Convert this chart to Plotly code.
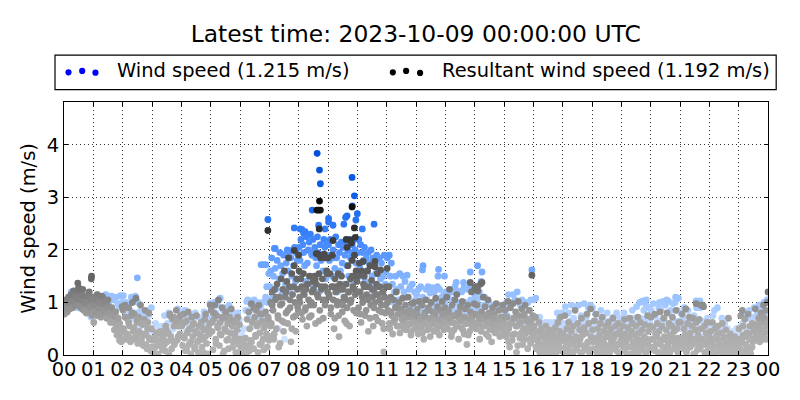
import plotly.graph_objects as go

tick_labels = ["00","01","02","03","04","05","06","07","08","09","10","11","12","13","14","15","16","17","18","19","20","21","22","23","00"]
title_text = "Latest time: 2023-10-09 00:00:00 UTC"
wind_label = "Wind speed (1.215 m/s)"
resultant_label = "Resultant wind speed (1.192 m/s)"

r00 = [0.78,0.85,0.92,0.82,1.0,0.88,1.02,0.95,1.08,0.9,1.12,1.0,1.2,1.05,1.1,1.25,1.1,1.02,1.15,0.88,1.25,1.0,0.85,1.1,0.95,1.05,0.82,1.2,1.0,0.92,0.75,1.1]
r01 = [0.62,1.08,0.95,0.75,1.15,1.0,0.88,1.05,0.72,0.98,1.1,0.85,0.92,1.02,0.78,0.95,1.05,0.8,0.9,0.72,0.88,0.82,0.68,0.78,0.6,0.72,0.55,0.66,0.42,0.6,0.35,0.25,0.5]
r02 = [0.85,0.45,0.95,0.3,0.7,0.38,0.9,0.55,0.25,0.75,1.0,0.45,0.78,0.3,1.08,0.62,0.22,0.72,0.42,0.95,0.3,0.58,0.18,0.68,0.85,0.38,0.12,0.62,0.8,0.3,0.08,0.5]
r03 = [0.28,0.05,0.32,0.15,0.42,0.25,0.02,0.42,0.18,0.45,0.3,0.1,0.38,0.2,0.08,0.5,0.25,0.42,0.02,0.78,0.35,0.12,0.68,0.72,0.2,0.58,0.85,0.28,0.55,0.7,0.4,0.6]
r04 = [0.55,0.18,0.78,0.32,0.08,0.65,0.42,0.82,0.2,0.5,0.02,0.72,0.35,0.6,0.12,0.45,0.75,0.25,0.05,0.55,0.38,0.62,0.15,0.3,0.48,0.68,0.78,0.22,0.02,0.52,0.4,0.95]
r05 = [0.85,0.45,0.1,0.68,0.95,0.3,0.75,0.55,1.05,0.18,0.62,0.38,0.9,0.02,0.7,0.5,0.82,0.28,0.6,0.12,0.72,0.42,0.88,0.55,0.25,0.65,0.35,0.05,0.48,0.72,0.2,0.58]
r06 = [0.02,0.12,0.3,0.05,0.22,0.1,0.32,0.02,0.68,0.18,0.82,0.5,0.28,0.98,0.62,0.12,0.9,0.72,0.38,0.85,0.55,0.05,0.95,0.42,0.78,0.22,0.65,0.3,0.1,0.58,0.82,0.4,0.15,0.72,0.28]
r07 = [0.35,1.0,0.6,1.2,0.85,0.3,1.25,1.05,0.5,1.35,0.75,0.15,1.1,0.95,1.45,0.65,1.25,0.45,1.6,1.1,0.8,1.4,0.6,1.85,1.3,0.9,0.25,1.55,1.15,0.72,1.7,1.0,0.45,1.45,1.25,0.85]
r08 = [1.6,1.0,1.45,1.3,0.68,1.55,1.15,0.85,1.25,0.55,1.35,1.05,1.5,0.95,0.75,1.2,1.4,0.95,1.5,0.6,1.35,1.93,1.1,1.55,0.85,1.85,1.25,1.45,0.7,1.92,1.3,1.05,1.6,1.2]
r09 = [1.85,1.1,1.55,0.78,1.3,1.9,1.05,0.5,1.45,1.2,1.3,0.95,1.55,0.35,1.35,1.0,1.5,0.82,1.25,1.1,0.65,1.05,1.35,0.9,1.7,1.2,0.55,1.45,1.05,1.8,1.3,0.85,1.9,1.15,1.6,1.4]
r10 = [1.5,0.9,1.75,1.2,0.62,1.6,1.0,1.35,1.5,0.75,1.3,1.15,1.6,0.45,1.3,1.7,0.95,1.42,1.1,0.55,1.25,1.0,0.72,1.35,1.55,1.15,0.85,1.3,1.62,0.95,0.6,1.2,0.06,1.1,0.8,1.3]
r11 = [1.65,0.85,1.3,0.5,1.1,0.75,0.4,1.05,0.65,0.9,1.2,0.55,0.78,1.0,0.42,0.88,0.68,1.08,0.6,0.82,0.95,0.48,0.72,1.1,0.58,0.85,0.38,0.98,0.7,1.0,0.5,0.8]
r12 = [0.62,0.88,0.4,1.02,0.72,0.5,0.95,0.58,0.3,0.8,1.05,0.65,0.48,0.9,0.7,0.35,1.0,0.6,0.82,0.45,0.75,1.08,0.55,0.92,0.68,0.38,0.85,0.6,1.02,0.72,0.48,0.9]
r13 = [0.7,1.1,0.5,0.85,1.25,0.62,0.35,0.95,0.75,0.48,1.05,0.58,1.15,0.8,0.3,0.68,0.92,0.52,1.02,0.72,0.4,0.88,0.6,0.2,0.95,0.65,0.45,0.82,1.2,0.55,0.75,0.98]
r14 = [1.3,0.5,0.95,1.22,0.65,0.3,1.35,0.82,0.55,1.1,0.72,0.92,0.4,0.62,1.05,0.8,0.5,0.7,0.25,0.9,0.58,0.78,0.42,0.98,0.65,0.52,0.85,0.35,0.72,0.6,0.95,0.48]
r15 = [0.6,0.85,0.35,0.72,1.02,0.5,0.15,0.9,0.62,0.28,0.98,0.7,0.4,0.82,0.05,0.55,1.02,0.75,0.32,0.62,0.88,0.2,0.5,0.78,0.95,0.42,0.68,0.12,0.55,0.85,0.3,0.65,0.45,0.75]
r16 = [0.55,0.3,0.72,0.12,0.45,0.25,0.62,0.05,0.35,0.5,0.18,0.42,0.02,0.28,0.55,0.1,0.38,0.22,0.48,0.05,0.32,0.15,0.42,0.02,0.25,0.52,0.1,0.35,0.62,0.18,0.45,0.72,0.08,0.3]
r17 = [0.4,0.05,0.75,0.25,0.5,0.12,0.62,0.32,0.02,0.45,0.2,0.55,0.08,0.85,0.35,0.15,0.6,0.28,0.48,0.05,0.7,0.38,0.18,0.52,0.1,0.42,0.78,0.25,0.6,0.02,0.88,0.32]
r18 = [0.48,0.12,0.65,0.3,0.78,0.05,0.5,0.22,0.38,0.6,0.15,0.72,0.28,0.45,0.02,0.55,0.35,0.18,0.62,0.42,0.08,0.5,0.25,0.7,0.32,0.12,0.55,0.4,0.2,0.6,0.02,0.45,0.28]
r19 = [0.3,0.55,0.12,0.68,0.4,0.22,0.02,0.52,0.32,0.7,0.15,0.45,0.6,0.25,0.05,0.38,0.55,0.18,0.72,0.42,0.28,0.62,0.1,0.48,0.2,0.35,0.58,0.02,0.3,0.75,0.45,0.15,0.55]
r20 = [0.72,0.3,0.52,0.12,0.78,0.4,0.2,0.6,0.05,0.45,0.82,0.28,0.55,0.15,0.7,0.35,0.02,0.48,0.8,0.25,0.6,0.38,0.1,0.55,0.72,0.3,0.45,0.18,0.85,0.5,0.05,0.62,0.32]
r21 = [0.62,0.28,0.78,0.15,0.5,0.38,0.88,0.08,0.6,0.25,0.72,0.42,0.18,0.55,0.7,0.3,0.02,0.48,0.62,0.22,0.38,0.68,0.12,0.5,0.3,0.95,0.92,0.55,0.2,0.42,0.62,0.05,0.35]
r22 = [0.2,0.45,0.08,0.62,0.3,0.15,0.5,0.02,0.38,0.55,0.22,0.1,0.42,0.28,0.6,0.05,0.35,0.18,0.48,0.02,0.3,0.7,0.12,0.4,0.2,0.05,0.28,0.15,0.35,0.02,0.22,0.1,0.3]
r23 = [0.5,0.1,0.75,0.3,0.85,0.55,0.05,0.68,0.35,0.18,0.02,0.78,0.4,0.55,0.12,0.3,0.6,0.25,0.45,0.32,0.88,0.55,0.35,0.28,0.7,0.5,0.3,0.8,0.62,0.3,0.95,0.7,0.42,0.85,0.55,0.65]

b00 = [0.9,1.05,0.98,1.1,0.88,1.15,1.02,1.22,1.12,0.95,1.08,1.28,0.92,1.05,1.14,0.85,1.0,0.8,1.12,1.0,0.9,1.05,0.78]
b01 = [0.95,0.82,1.05,0.9,1.0,0.78,1.12,0.98,0.85,1.03,0.7,0.92,0.8,0.62,0.9,0.75,0.48,0.82,0.38,0.7,0.28,0.45,0.92]
b02 = [0.5,0.72,0.4,0.62,0.32,0.8,0.52,0.35,0.68,0.45,0.25,0.6,0.4,0.2,0.5,0.32,0.15]
b03 = [0.12,0.32,0.22,0.42,0.18,0.3,0.55,0.42,0.75,0.28,0.55,0.65,0.35,0.75]
b04 = [0.35,0.62,0.1,0.48,0.25,0.58,0.15,0.42,0.28,0.55,0.05,0.35,0.48,0.6]
b05 = [0.62,0.8,0.22,0.52,0.4,0.72,0.08,0.45,0.3,0.68,0.15,0.4,0.62,0.3]
b06 = [0.08,0.2,0.02,0.15,0.08,0.25,0.12,0.35,0.6,0.2,0.78,0.52,0.32,0.68]
b07 = [0.55,0.95,0.4,1.1,0.7,0.22,0.98,0.62,1.2,0.85,1.05,0.5,1.3,0.75,0.92]
b08 = [1.1,0.8,1.2,0.9,1.35,0.72,1.0,1.25,1.45,1.15,0.65,1.3,1.05,0.95,1.55]
b09 = [1.15,0.9,1.3,0.7,1.02,0.75,1.25,0.95,1.1,0.6,1.2,1.0,1.5,1.25,0.8]
b10 = [1.2,0.78,1.1,1.3,0.85,1.05,0.7,1.25,0.9,1.15,0.65,1.05,0.82,0.5,0.95]
b11 = [1.0,0.6,0.82,0.62,0.7,0.92,0.55,0.78,0.68,0.5,0.72,0.6,0.8,0.45,0.62,0.75]
b12 = [0.78,0.55,0.68,0.42,0.75,0.6,0.85,0.52,0.7,0.62,0.8,0.45,0.68,0.55,0.78,0.62]
b13 = [0.6,0.8,0.7,0.42,0.62,0.75,0.55,0.8,0.65,0.48,0.72,0.6,0.38,0.7,0.55,0.62]
b14 = [0.78,0.58,0.72,0.45,0.68,0.55,0.75,0.35,0.62,0.48,0.7,0.58,0.42,0.65,0.55,0.38]
b15 = [0.72,0.45,0.25,0.6,0.38,0.7,0.55,0.18,0.62,0.42,0.75,0.3,0.65,0.5,0.22,0.4]
b16 = [0.4,0.15,0.3,0.08,0.38,0.2,0.12,0.3,0.02,0.22,0.12,0.28,0.05,0.18,0.25,0.1]
b17 = [0.3,0.15,0.08,0.35,0.22,0.02,0.28,0.12,0.2,0.3,0.05,0.4,0.15,0.22,0.1,0.35]
b18 = [0.25,0.1,0.32,0.18,0.05,0.3,0.22,0.12,0.35,0.02,0.28,0.15,0.38,0.08,0.2,0.4]
b19 = [0.2,0.08,0.3,0.15,0.35,0.02,0.25,0.12,0.32,0.05,0.28,0.18,0.35,0.08,0.22,0.1]
b20 = [0.15,0.3,0.08,0.35,0.22,0.02,0.28,0.12,0.3,0.18,0.05,0.35,0.25,0.12,0.32,0.2]
b21 = [0.12,0.32,0.2,0.05,0.35,0.15,0.28,0.02,0.22,0.1,0.32,0.18,0.3,0.05,0.25,0.12]
b22 = [0.12,0.25,0.02,0.32,0.15,0.08,0.22,0.02,0.15,0.25,0.08,0.18,0.02,0.12,0.05,0.2]
b23 = [0.15,0.02,0.25,0.38,0.08,0.2,0.42,0.1,0.3,0.02,0.15,0.28,0.48,0.35,0.58,0.42,0.25,0.5,0.35,0.72,0.45,0.3,0.6]

w00 = [0.8,0.95,1.05,1.1,1.2,1.08,1.0,1.15,0.9,1.05,1.2,0.95,1.1,1.0,1.15,0.9,0.72,1.1]
w01 = [1.0,1.1,1.15,1.0,0.9,1.05,0.85,0.95,1.15,1.12,1.0,0.8,1.12,1.05,0.78,1.1,0.98,0.9,1.13,1.0]
w02 = [1.13,0.9,1.0,0.75,0.6,0.85,1.1,0.7,0.8,1.12,0.72,1.0,0.82,0.55,0.85,0.7,0.8,0.62,0.5,0.75,0.45,0.9]
w03 = [0.3,0.45,0.6,0.35,0.5,0.4,0.55,0.3,0.75,0.45,0.6,0.8,0.4,0.68,0.5,0.7,0.62,0.88,0.55,0.72]
w04 = [0.8,0.6,0.85,0.45,0.7,0.55,0.75,0.65,0.4,0.8,0.55,0.72,0.48,0.7,0.6,0.82,0.5,0.72,0.62,0.98]
w05 = [0.9,0.72,1.0,0.8,0.95,0.6,1.08,0.7,0.85,0.5,0.9,0.75,0.95,0.6,0.82,0.55,0.78,0.62,0.8,0.68]
w06 = [0.25,0.4,0.15,0.5,0.3,0.85,1.02,1.05,0.7,1.0,0.95,1.0,0.55,1.05,0.85,0.9,1.0,0.68,0.8,0.92,0.6,1.0,0.5,0.78,1.1,1.3,1.0,1.55]
w07 = [1.3,1.6,1.85,1.1,1.5,2.03,1.65,1.25,1.8,0.5,1.45,1.95,1.7,1.15,1.55,1.9,0.3,1.35,1.75,2.0,1.6,1.9,1.2,1.85,1.5,2.0,1.7,2.05,1.4,1.95,1.8,1.9]
w08 = [2.05,1.8,2.2,1.55,2.1,1.95,1.7,1.4,2.25,1.75,2.0,2.15,1.5,1.95,1.9,2.2,1.3,2.05,1.85,1.7,2.25,1.95,1.2,2.1,1.8,1.85,1.6,2.2,2.05,1.45,2.1,1.9]
w09 = [2.1,1.8,2.2,1.9,1.5,2.0,1.85,1.65,2.25,1.85,1.2,2.1,1.95,1.6,2.15,1.75,2.05,1.35,1.9,2.15,1.7,2.0,1.5,2.2,1.85,1.95,2.1,1.4,2.2,2.0,1.75,1.55]
w10 = [1.95,2.2,1.7,2.1,1.5,1.95,1.8,2.05,1.4,1.85,1.6,1.95,1.75,1.3,2.0,1.5,1.85,1.2,1.7,1.55,1.9,1.3,1.6,1.85,1.45,1.75,1.2,1.5,1.9,1.35,1.6]
w11 = [1.85,1.3,1.9,1.5,1.75,1.35,1.0,1.2,1.5,1.25,0.9,1.05,1.55,1.3,0.8,1.5,1.2,1.4,1.1,1.52,0.9,1.25,1.3,0.85,1.35,0.9,1.2,1.05]
w12 = [1.15,0.85,1.25,1.0,1.3,0.8,1.1,0.9,0.8,1.25,1.05,1.3,0.85,1.18,0.9,1.28,0.8,1.2,1.0,0.85,1.3,0.95,1.25,0.8,1.1,0.9,1.15,1.0]
w13 = [1.2,0.9,1.15,0.8,0.9,1.05,1.2,0.85,1.3,0.8,1.0,1.22,0.9,0.85,1.2,0.9,1.28,1.0,0.8,1.25,0.9,1.3,1.05,0.9,1.2,0.85]
w14 = [1.1,1.3,1.0,0.9,1.2,0.85,1.1,0.8,0.95,1.1,0.7,0.95,0.75,1.0,0.8,0.7,0.95,0.8,0.6,0.95,0.7,0.9,0.65,0.95,0.7,0.6,0.9,0.7]
w15 = [0.8,0.7,1.0,0.75,1.15,0.9,0.7,1.0,0.6,1.15,0.7,1.05,0.7,1.2,0.75,0.6,0.95,0.7,1.05,0.6,0.9,1.0,0.7,0.5,1.0,0.85,0.6,1.05,0.7,0.5]
w16 = [1.05,0.7,1.08,0.55,0.7,0.45,0.72,0.5,0.6,0.35,0.55,0.4,0.62,0.4,0.5,0.3,0.62,0.45,0.4,0.55,0.35,0.62,0.5,0.4,0.8,0.55,0.7,0.5,0.45,0.8]
w17 = [0.6,0.45,0.92,0.55,0.5,0.8,0.4,0.65,0.95,0.5,0.7,0.45,0.92,0.6,0.5,0.95,0.55,0.75,0.45,0.6,0.98,0.5,0.7,0.55,0.9,0.45,0.95,0.6]
w18 = [0.9,0.55,0.45,0.78,0.5,0.65,0.4,0.6,0.85,0.5,0.7,0.35,0.6,0.5,0.8,0.45,0.65,0.4,0.55,0.48,0.72,0.35,0.6,0.8,0.45,0.55,0.7,0.5]
w19 = [0.6,0.45,0.8,0.4,0.6,0.5,0.7,0.4,0.6,0.5,0.85,0.45,0.7,0.55,0.92,0.5,0.65,1.0,0.7,1.02,0.55,0.85,0.6,0.95,0.7,0.5,0.9,0.6]
w20 = [0.85,0.55,0.98,0.45,0.75,0.5,0.65,0.9,0.5,0.85,0.6,1.02,0.7,0.95,0.5,0.8,1.02,0.6,0.85,0.5,0.98,0.65,1.0,0.6,0.85,1.08,0.65]
w21 = [0.8,0.5,0.7,0.9,0.6,0.45,0.85,0.55,0.7,0.4,0.6,0.75,0.5,0.9,0.98,1.0,0.9,0.65,0.5,0.62,0.4,0.55,0.7,0.45]
w22 = [0.55,0.4,0.75,0.85,0.55,0.9,0.35,0.5,0.7,0.45,0.6,0.3,0.5,0.35,0.45,0.25,0.4,0.3,0.5,0.38]
w23 = [0.4,0.55,0.6,0.78,0.45,0.7,0.85,0.5,0.72,0.9,0.6,0.8,0.95,0.7,0.88,1.0,0.75,1.05]

wind_peak_hours = [2.5,6.72,6.8,6.88,6.95,8.63,8.71,8.74,9.82,9.9,10.0,9.83,8.46,9.02,9.02,9.17,9.54,9.65,9.6,9.95,10.17,10.57,7.85,8.05,8.11,8.22,8.17,8.68,7.2,8.4,8.9,12.24,12.22,12.77,12.75,12.97,13.37,13.62,13.85,14.1,14.25,14.22,15.95,19.75,19.85,20.3,20.55,20.85,21.55,21.68]
wind_peak_speeds = [1.47,1.72,1.72,1.72,2.58,3.84,3.52,3.26,3.38,3.03,2.69,2.84,2.76,2.6,2.53,2.47,2.49,2.65,2.62,2.57,2.4,2.49,2.42,2.4,2.39,2.35,2.32,2.47,2.03,2.3,2.4,1.7,1.62,1.63,1.5,1.5,1.38,1.38,1.58,1.7,1.58,1.4,1.62,1.03,1.05,1.0,1.05,1.1,1.03,1.03]
resultant_peak_hours = [0.47,0.93,0.94,6.95,8.71,8.68,8.62,8.74,9.82,9.9,8.7,9.17,9.62,9.76,9.93,9.65,9.8,7.85,8.0,8.6,8.7,8.8,8.9,10.2,10.6,10.6,13.85,14.0,14.1,14.25,15.95,21.55,21.7,24.0,23.98]
resultant_peak_speeds = [1.37,1.45,1.5,2.37,2.93,2.76,2.76,2.76,2.82,2.42,2.4,2.18,2.2,2.19,2.24,2.05,2.13,1.99,1.9,1.93,1.9,1.88,1.85,1.78,1.78,1.68,1.38,1.25,1.3,1.38,1.52,0.98,0.95,1.2,1.0]

resultant_by_hour = [r00,r01,r02,r03,r04,r05,r06,r07,r08,r09,r10,r11,r12,r13,r14,r15,r16,r17,r18,r19,r20,r21,r22,r23]
resultant_extra_by_hour = [b00,b01,b02,b03,b04,b05,b06,b07,b08,b09,b10,b11,b12,b13,b14,b15,b16,b17,b18,b19,b20,b21,b22,b23]
wind_by_hour = [w00,w01,w02,w03,w04,w05,w06,w07,w08,w09,w10,w11,w12,w13,w14,w15,w16,w17,w18,w19,w20,w21,w22,w23]

def flatten(by_hour):
    xs, ys = [], []
    for hour, vals in enumerate(by_hour):
        for i, v in enumerate(vals):
            xs.append(hour + (i + 0.5) / len(vals))
            ys.append(v)
    return xs, ys

wx, wy = flatten(wind_by_hour)
wx, wy = wx + wind_peak_hours, wy + wind_peak_speeds
rx1, ry1 = flatten(resultant_by_hour)
rx2, ry2 = flatten(resultant_extra_by_hour)
rx = rx1 + rx2 + resultant_peak_hours
ry = ry1 + ry2 + resultant_peak_speeds

# The page body has an 8 px margin: the figure is 792x392 placed at (8, 8).
OFF = 8
W, H = 800 - OFF, 400 - OFF
L, R, T, B = 63.5, 768.3, 102.3, 354.7
def px(x): return (x - L) / (R - L)
def py(y): return (B - y) / (B - T)

blue_scale = [[0, "#dbe9ff"], [0.13, "#c6dcff"], [0.26, "#a2c7ff"], [0.4, "#7fb1ff"], [0.53, "#4f90ff"], [0.66, "#2a76f5"], [0.8, "#0f5ee8"], [1, "#0050d8"]]
gray_scale = [[0, "#b4b4b4"], [0.2, "#a8a8a8"], [0.33, "#8a8a8a"], [0.45, "#6e6e6e"], [0.55, "#5a5a5a"], [0.66, "#444444"], [0.83, "#2a2a2a"], [1, "#000000"]]

fig = go.Figure()
fig.add_trace(go.Scatter(x=wx, y=wy, mode="markers", name=wind_label, showlegend=False, hoverinfo="skip",
    marker=dict(size=6.8, color=wy, cmin=0, cmax=3.8, colorscale=blue_scale, line=dict(width=0))))
fig.add_trace(go.Scatter(x=rx, y=ry, mode="markers", name=resultant_label, showlegend=False, hoverinfo="skip",
    marker=dict(size=6.8, color=ry, cmin=0, cmax=3.0, colorscale=gray_scale, line=dict(width=0))))

FONT = "DejaVu Sans"
shapes = [dict(type="rect", xref="paper", yref="paper", x0=px(54.5), x1=px(776.5), y0=py(90), y1=py(55.5),
               line=dict(color="black", width=1.2), fillcolor="white")]
for cx, cy, c in [(68, 72.7, "#0000ff"), (81.7, 71.3, "#0000ff"), (95, 73, "#0000ff"),
                  (392.7, 72.7, "#000000"), (406, 71.3, "#000000"), (420, 73.3, "#000000")]:
    r = 3.1
    shapes.append(dict(type="circle", xref="paper", yref="paper", x0=px(cx - r), x1=px(cx + r), y0=py(cy + r), y1=py(cy - r),
                       line=dict(width=0), fillcolor=c))

annotations = [
    dict(text=wind_label, xref="paper", yref="paper", x=px(115), y=py(71), xanchor="left", yanchor="middle", showarrow=False,
         font=dict(family=FONT, size=19.44, color="black")),
    dict(text=resultant_label, xref="paper", yref="paper", x=px(440), y=py(71), xanchor="left", yanchor="middle", showarrow=False,
         font=dict(family=FONT, size=19.44, color="black")),
]

axis_common = dict(showline=True, linecolor="black", linewidth=1.2, mirror="ticks", ticks="inside", ticklen=4, tickwidth=1, tickcolor="black",
                   showgrid=True, gridcolor="#333333", griddash="1px,3px", gridwidth=1, zeroline=False,
                   tickfont=dict(family=FONT, size=19.44, color="black"))

fig.update_layout(
    width=W, height=H, autosize=False,
    margin=dict(l=L - OFF, r=800 - R, t=T - OFF, b=400 - B, pad=0),
    paper_bgcolor="white", plot_bgcolor="white", showlegend=False,
    title=dict(text=title_text, x=(415.7 - OFF) / W, xanchor="center", y=1 - (34 - OFF) / H, yanchor="middle",
               font=dict(family=FONT, size=23.4, color="black")),
    xaxis=dict(range=[0, 24], tickmode="array", tickvals=list(range(25)), ticktext=tick_labels, ticklabelstandoff=-3, **axis_common),
    yaxis=dict(range=[0, (B - T) / 52.4], tickmode="array", tickvals=[0, 1, 2, 3, 4], ticktext=["0", "1", "2", "3", "4"],
               title=dict(text="Wind speed (m/s)", standoff=5, font=dict(family=FONT, size=19.44, color="black")), **axis_common),
    shapes=shapes, annotations=annotations,
)
fig.write_html("out.html")
